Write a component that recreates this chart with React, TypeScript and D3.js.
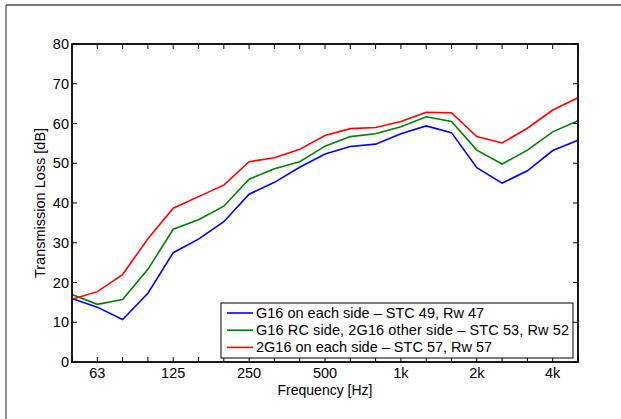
import React from "react";
import * as d3 from "d3";

const bands = ["50", "63", "80", "100", "125", "160", "200", "250", "315", "400", "500", "630", "800", "1k", "1.25k", "1.6k", "2k", "2.5k", "3.15k", "4k", "5k"];
const labelledBands = ["63", "125", "250", "500", "1k", "2k", "4k"];
const yTicks = [0, 10, 20, 30, 40, 50, 60, 70, 80];

const g16Each = [16.0, 13.8, 10.7, 17.3, 27.5, 30.9, 35.3, 42.2, 45.2, 49.0, 52.3, 54.2, 54.8, 57.4, 59.4, 57.7, 48.9, 45.0, 48.1, 53.2, 55.8];
const g16Rc = [17.0, 14.5, 15.7, 23.3, 33.4, 35.8, 39.2, 46.0, 48.6, 50.4, 54.3, 56.7, 57.4, 59.2, 61.7, 60.5, 53.3, 49.8, 53.3, 57.9, 60.7];
const twoG16Each = [15.8, 17.7, 22.0, 31.0, 38.7, 41.6, 44.5, 50.4, 51.4, 53.5, 57.0, 58.7, 59.0, 60.5, 62.8, 62.7, 56.7, 55.1, 58.8, 63.4, 66.5];

const seriesNames = [
    "G16 on each side \u2013 STC 49, Rw 47",
    "G16 RC side, 2G16 other side \u2013 STC 53, Rw 52",
    "2G16 on each side \u2013 STC 57, Rw 57",
];
const seriesColors = ["#0000ff", "#008000", "#ff0000"];

const W = 621;
const H = 419;
const margin = { left: 72, right: 43, top: 44, bottom: 57 };
const font = "'Liberation Sans', Arial, sans-serif";
const fs = 14.5;

export default function App() {
    const x = d3.scaleLinear().domain([0, bands.length - 1]).range([margin.left, W - margin.right]);
    const y = d3.scaleLinear().domain([0, 80]).range([H - margin.bottom, margin.top]);
    const line = d3.line<number>().x((d, i) => x(i)).y(d => y(d));
    const all = [g16Each, g16Rc, twoG16Each];
    const x0 = margin.left, x1 = W - margin.right, y0 = H - margin.bottom, y1 = margin.top;

    return (
        <svg width={W} height={H} style={{ position: "absolute", left: 0, top: 0, background: "#fff" }} fontFamily={font}>
            <rect x={0} y={0} width={W} height={H} fill="#fff" />
            <line x1={6} x2={W} y1={5} y2={5} stroke="#777" strokeWidth={2} />
            <line x1={6} x2={6} y1={5} y2={H} stroke="#222" strokeWidth={1} />

            {bands.map((b, i) => (
                <g key={b}>
                    <line x1={x(i)} x2={x(i)} y1={y0} y2={y0 - 5} stroke="#000" />
                    <line x1={x(i)} x2={x(i)} y1={y1} y2={y1 + 5} stroke="#000" />
                    {labelledBands.includes(b) && (
                        <text x={x(i)} y={y0 + 16} textAnchor="middle" fontSize={fs}>{b}</text>
                    )}
                </g>
            ))}
            {yTicks.map(t => (
                <g key={t}>
                    <line x1={x0} x2={x0 + 5} y1={y(t)} y2={y(t)} stroke="#000" />
                    <line x1={x1} x2={x1 - 5} y1={y(t)} y2={y(t)} stroke="#000" />
                    <text x={x0 - 3} y={y(t) + 5} textAnchor="end" fontSize={fs}>{t}</text>
                </g>
            ))}

            {all.map((s, k) => (
                <path key={k} d={line(s) ?? ""} fill="none" stroke={seriesColors[k]} strokeWidth={1.6} />
            ))}

            <rect x={x0} y={y1} width={x1 - x0} height={y0 - y1} fill="none" stroke="#000" strokeWidth={1.8} />

            <g>
                <rect x={221} y={303} width={352} height={55} fill="#fff" stroke="#000" strokeWidth={1} />
                {seriesNames.map((n, k) => (
                    <g key={n}>
                        <line x1={227} x2={253} y1={313 + k * 17.2} y2={313 + k * 17.2} stroke={seriesColors[k]} strokeWidth={1.6} />
                        <text x={256} y={313 + k * 17.2 + 5} fontSize={fs} textLength={k === 1 ? 313 : undefined}>{n}</text>
                    </g>
                ))}
            </g>

            <text x={(x0 + x1) / 2} y={395} textAnchor="middle" fontSize={14}>Frequency [Hz]</text>
            <text transform={`translate(45, ${(y0 + y1) / 2}) rotate(-90)`} textAnchor="middle" fontSize={fs}>Transmission Loss [dB]</text>
        </svg>
    );
}
